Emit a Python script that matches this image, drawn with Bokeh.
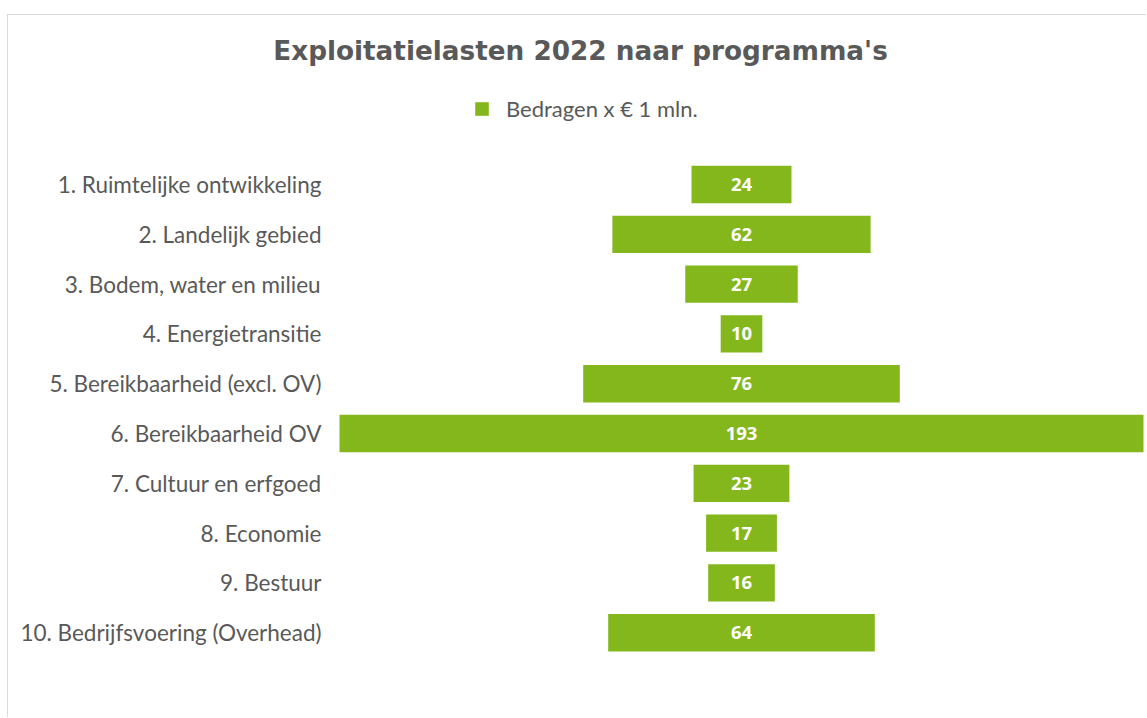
from bokeh.plotting import figure
from bokeh.models import ColumnDataSource, LabelSet, Label, Range1d, Legend, LegendItem
from bokeh.core.properties import value
from bokeh.embed import file_html
from bokeh.resources import INLINE

categories = [
    "1. Ruimtelijke ontwikkeling",
    "2. Landelijk gebied",
    "3. Bodem, water en milieu",
    "4. Energietransitie",
    "5. Bereikbaarheid (excl. OV)",
    "6. Bereikbaarheid OV",
    "7. Cultuur en erfgoed",
    "8. Economie",
    "9. Bestuur",
    "10. Bedrijfsvoering (Overhead)",
]
values = [24, 62, 27, 10, 76, 193, 23, 17, 16, 64]
title_text = "Exploitatielasten 2022 naar programma's"
series_name = "Bedragen x € 1 mln."

GREEN = "#84b71c"
GREY = "#595959"

n = len(categories)
pos = list(range(n))
vmax = max(values)

# layout (pixels)
W, H = 1139, 703
BAR_AREA_LEFT = 331      # px from figure left where the widest bar starts
BAR_AREA_RIGHT = 4       # px right of widest bar end
ROW_PX = 49.8            # px per category row
FIRST_ROW_PX = 169       # px from figure top to first row centre

u = vmax / (W - BAR_AREA_LEFT - BAR_AREA_RIGHT)   # data units per px
x0 = -vmax / 2 - BAR_AREA_LEFT * u
x1 = vmax / 2 + BAR_AREA_RIGHT * u
y_top = -FIRST_ROW_PX / ROW_PX
y_bot = y_top + H / ROW_PX

source = ColumnDataSource(dict(
    y=pos,
    cat=categories,
    left=[-v / 2 for v in values],
    right=[v / 2 for v in values],
    lbl=[str(v) for v in values],
    zero=[0] * n,
    catx=[-vmax / 2 - 18 * u] * n,
))

p = figure(
    width=W, height=H,
    y_range=Range1d(y_bot, y_top),
    x_range=Range1d(x0, x1),
    output_backend="svg", toolbar_location=None, title=None,
    min_border=0,
)
p.margin = (14, 0, 0, 7)
p.styles = {"border-top": "1px solid #d9d9d9", "border-left": "1px solid #d9d9d9"}

p.outline_line_color = None
p.xgrid.visible = False
p.ygrid.visible = False
p.xaxis.visible = False
p.yaxis.visible = False

bars = p.hbar(y="y", left="left", right="right", height=0.75, source=source,
              fill_color=GREEN, line_color=None)

cat_labels = LabelSet(x="catx", y="y", text="cat", source=source,
                      text_align="right", text_baseline="middle",
                      text_color=GREY, text_font=value("Lato"),
                      text_font_size="22.5px")
p.add_layout(cat_labels)

labels = LabelSet(x="zero", y="y", text="lbl", source=source,
                  text_align="center", text_baseline="middle",
                  text_color="white", text_font=value("Open Sans"),
                  text_font_style="bold", text_font_size="18.5px")
p.add_layout(labels)

title = Label(x=-vmax / 2 + 241 * u, y=y_top + 35 / ROW_PX,
              text=title_text, text_align="center", text_baseline="middle",
              text_font="DejaVu Sans", text_font_style="bold",
              text_font_size="26.3px", text_color=GREY)
p.add_layout(title)

legend = Legend(items=[LegendItem(label=series_name, renderers=[bars])],
                location=(465, H - 107), orientation="horizontal",
                glyph_width=17, glyph_height=17, label_height=17,
                label_standoff=16, padding=0, margin=0, spacing=0,
                border_line_color=None, background_fill_alpha=0,
                label_text_font="Lato", label_text_font_size="22px",
                label_text_color=GREY, label_text_baseline="middle")
p.add_layout(legend, "center")

open("out.html", "w").write(file_html(p, INLINE))
